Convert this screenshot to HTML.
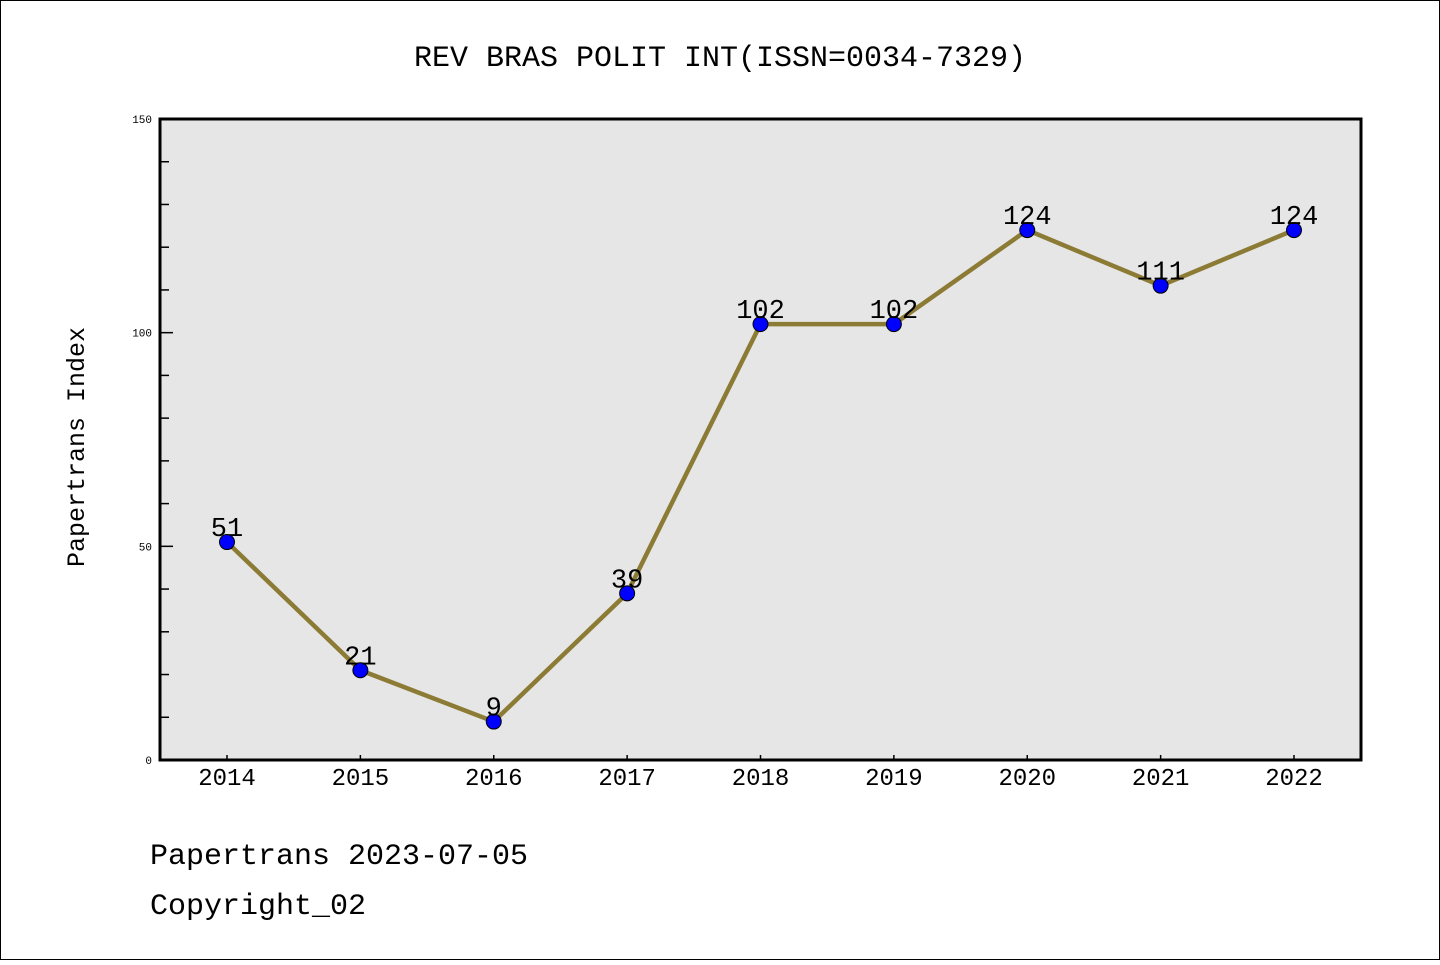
<!DOCTYPE html>
<html><head><meta charset="utf-8"><style>
body{margin:0;background:#fff;width:1440px;height:960px;overflow:hidden}
svg text{font-family:"Liberation Mono","DejaVu Sans Mono",monospace}
</style></head><body>
<svg width="1440" height="960" xmlns="http://www.w3.org/2000/svg">
<rect x="0.5" y="0.5" width="1439" height="959" fill="#fff" stroke="#000"/>
<text x="720" y="66" text-anchor="middle" font-size="30">REV BRAS POLIT INT(ISSN=0034-7329)</text>
<rect x="160" y="119" width="1201" height="641" fill="#e6e6e6"/>
<g id="yaxis"></g><g id="xaxis"></g><g id="series"></g>
<rect x="160" y="119" width="1201" height="641" fill="none" stroke="#000" stroke-width="3"/>
<text transform="translate(84,447) rotate(-90)" text-anchor="middle" font-size="25">Papertrans Index</text>
<text x="150" y="864" font-size="30">Papertrans 2023-07-05</text>
<text x="150" y="914" font-size="30">Copyright_02</text>
</svg>
<script>
const years=["2014","2015","2016","2017","2018","2019","2020","2021","2022"];
const values=[51,21,9,39,102,102,124,111,124];
const yTicks=[0,50,100,150];
const NS="http://www.w3.org/2000/svg";
const xs=i=>227+i*(1294-227)/(years.length-1);
const ys=v=>760-v*641/150;
function mk(t,a,p,txt){const e=document.createElementNS(NS,t);for(const k in a)e.setAttribute(k,a[k]);if(txt!==undefined)e.textContent=txt;p.appendChild(e);return e;}
const ya=document.getElementById('yaxis'),xa=document.getElementById('xaxis'),se=document.getElementById('series');
for(let v=10;v<150;v+=10){const major=v%50===0;const l=mk('line',{x1:160,x2:major?173:169,y1:ys(v),y2:ys(v),stroke:'#000','stroke-width':1.5},ya);

}
yTicks.forEach(v=>{const t=mk('text',{x:152,y:ys(v)+4,'text-anchor':'end','font-size':11},ya,String(v));

});
years.forEach((y,i)=>{const l=mk('line',{x1:xs(i),x2:xs(i),y1:760,y2:755,stroke:'#000','stroke-width':1.5},xa);


const t=mk('text',{x:xs(i),y:785,'text-anchor':'middle','font-size':24,'font-family':'Liberation Sans, sans-serif'},xa,y);

});
const pl=mk('polyline',{points:values.map((v,i)=>xs(i)+','+ys(v)).join(' '),fill:'none',stroke:'#8c7b35','stroke-width':4.5},se);


values.forEach((v,i)=>{const c=mk('circle',{cx:xs(i),cy:ys(v),r:7.5,fill:'#0000ff',stroke:'#000','stroke-width':1},se);


const t=mk('text',{x:xs(i),y:ys(v)-6,'text-anchor':'middle','font-size':27,'font-family':'Liberation Sans, sans-serif'},se,String(v));

});
</script>
</body></html>
